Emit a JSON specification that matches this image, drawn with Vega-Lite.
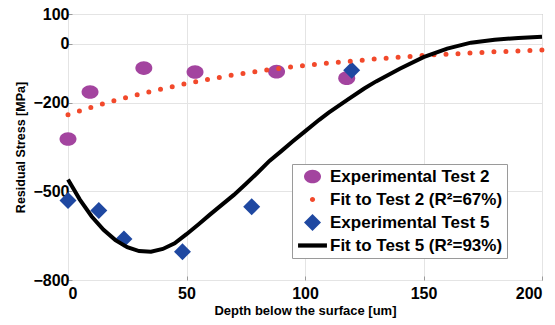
{
  "$schema": "https://vega.github.io/schema/vega-lite/v6.json",
  "width": 474,
  "height": 266,
  "autosize": "none",
  "padding": {"left": 68, "top": 14, "right": 13, "bottom": 45},
  "background": "white",
  "datasets": {
    "exp": [
      {"x": 0, "y": -323, "series": "Experimental Test 2"},
      {"x": 9.3, "y": -164, "series": "Experimental Test 2"},
      {"x": 32, "y": -83, "series": "Experimental Test 2"},
      {"x": 53.6, "y": -96, "series": "Experimental Test 2"},
      {"x": 88, "y": -95, "series": "Experimental Test 2"},
      {"x": 117.6, "y": -117, "series": "Experimental Test 2"},
      {"x": 0, "y": -531, "series": "Experimental Test 5"},
      {"x": 13, "y": -565, "series": "Experimental Test 5"},
      {"x": 23.6, "y": -661, "series": "Experimental Test 5"},
      {"x": 48.3, "y": -704, "series": "Experimental Test 5"},
      {"x": 77.5, "y": -552, "series": "Experimental Test 5"},
      {"x": 119.7, "y": -90, "series": "Experimental Test 5"}
    ],
    "fit2": [
      {"x": 0, "y": -241}, {"x": 10, "y": -215}, {"x": 20, "y": -192}, {"x": 30, "y": -172},
      {"x": 40, "y": -153}, {"x": 50, "y": -135}, {"x": 60, "y": -120}, {"x": 70, "y": -106},
      {"x": 80, "y": -94}, {"x": 90, "y": -83}, {"x": 100, "y": -74}, {"x": 110, "y": -66},
      {"x": 120, "y": -59}, {"x": 130, "y": -52}, {"x": 140, "y": -46}, {"x": 150, "y": -40},
      {"x": 160, "y": -36}, {"x": 170, "y": -32}, {"x": 180, "y": -28}, {"x": 190, "y": -25},
      {"x": 200, "y": -22}
    ],
    "fit5": [
      {"x": 0, "y": -460}, {"x": 5, "y": -528}, {"x": 10, "y": -585}, {"x": 15, "y": -630},
      {"x": 20, "y": -665}, {"x": 25, "y": -689}, {"x": 30, "y": -702}, {"x": 35, "y": -704},
      {"x": 40, "y": -695}, {"x": 45, "y": -676}, {"x": 50, "y": -645}, {"x": 55, "y": -612},
      {"x": 60, "y": -578}, {"x": 65, "y": -545}, {"x": 70, "y": -512}, {"x": 75, "y": -475},
      {"x": 80, "y": -437}, {"x": 85, "y": -397}, {"x": 90, "y": -364}, {"x": 95, "y": -330},
      {"x": 100, "y": -297}, {"x": 106, "y": -258}, {"x": 110, "y": -234}, {"x": 118, "y": -190},
      {"x": 125, "y": -152}, {"x": 130, "y": -128}, {"x": 140, "y": -85}, {"x": 150, "y": -46},
      {"x": 160, "y": -17}, {"x": 170, "y": 3}, {"x": 180, "y": 13}, {"x": 190, "y": 19},
      {"x": 200, "y": 23}
    ]
  },
  "config": {
    "font": "Liberation Sans",
    "view": {"stroke": "#9a9a9a", "strokeWidth": 1},
    "axis": {
      "labelFont": "Liberation Sans",
      "labelFontWeight": "bold",
      "labelFontSize": 16,
      "labelColor": "black",
      "titleFont": "Liberation Sans",
      "titleFontWeight": "bold",
      "titleFontSize": 13,
      "titleColor": "black",
      "gridColor": "#e4e4e4",
      "gridWidth": 1,
      "domain": false,
      "tickColor": "#9a9a9a",
      "tickSize": -4
    }
  },
  "layer": [
    {
      "data": {"name": "exp"},
      "mark": {"type": "point", "filled": true, "opacity": 1, "size": 289, "strokeWidth": 0},
      "encoding": {
        "x": {
          "field": "x", "type": "quantitative",
          "scale": {"domain": [0, 200], "nice": false},
          "axis": {"values": [0, 50, 100, 150, 200], "title": "Depth below the surface [um]", "labelPadding": 9, "titlePadding": 3}
        },
        "y": {
          "field": "y", "type": "quantitative",
          "scale": {"domain": [-800, 100], "nice": false},
          "axis": {"values": [100, 0, -200, -500, -800], "title": "Residual Stress [MPa]", "titleFontSize": 12.5, "labelPadding": 3, "titlePadding": 5}
        },
        "color": {
          "field": "series", "type": "nominal",
          "scale": {
            "domain": ["Experimental Test 2", "Fit to Test 2 (R²=67%)", "Experimental Test 5", "Fit to Test 5 (R²=93%)"],
            "range": ["#a3449f", "#f2492b", "#1f48a1", "#000000"]
          },
          "legend": {
            "title": null,
            "orient": "none",
            "legendX": 224,
            "legendY": 150,
            "direction": "vertical",
            "labelFont": "Liberation Sans",
            "labelFontWeight": "bold",
            "labelFontSize": 17,
            "labelColor": "black",
            "labelLimit": 400,
            "strokeColor": "#9a9a9a",
            "fillColor": "white",
            "padding": 4,
            "rowPadding": 5,
            "symbolOffset": 8,
            "symbolSize": 289,
            "symbolStrokeWidth": 0,
            "symbolOpacity": 1,
            "labelOffset": 9
          }
        },
        "shape": {
          "field": "series", "type": "nominal",
          "scale": {
            "domain": ["Experimental Test 2", "Fit to Test 2 (R²=67%)", "Experimental Test 5", "Fit to Test 5 (R²=93%)"],
            "range": [
              "M-1,0A1,0.8 0 1,0 1,0A1,0.8 0 1,0 -1,0Z",
              "M-0.3,0A0.3,0.3 0 1,0 0.3,0A0.3,0.3 0 1,0 -0.3,0Z",
              "M0,-1L1,0L0,1L-1,0Z",
              "M-1.7,-0.25L1.7,-0.25L1.7,0.25L-1.7,0.25Z"
            ]
          }
        }
      }
    },
    {
      "data": {"name": "fit2"},
      "mark": {"type": "line", "color": "#f2492b", "strokeWidth": 5, "strokeDash": [0, 12], "strokeCap": "round"},
      "encoding": {
        "x": {"field": "x", "type": "quantitative"},
        "y": {"field": "y", "type": "quantitative"}
      }
    },
    {
      "data": {"name": "fit5"},
      "mark": {"type": "line", "color": "black", "strokeWidth": 4},
      "encoding": {
        "x": {"field": "x", "type": "quantitative"},
        "y": {"field": "y", "type": "quantitative"}
      }
    }
  ]
}
